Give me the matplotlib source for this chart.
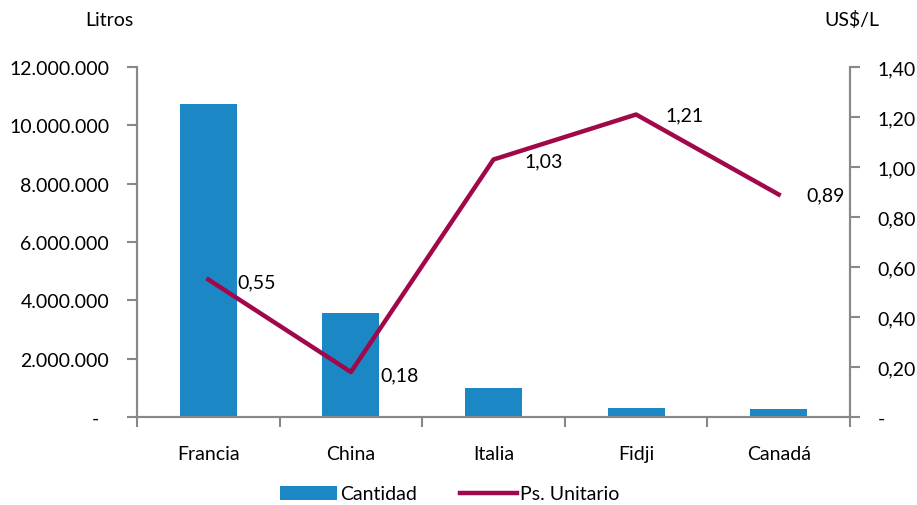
import matplotlib
matplotlib.use("Agg")
import matplotlib.pyplot as plt
from matplotlib.patches import Patch
from matplotlib.lines import Line2D
from matplotlib.ticker import FixedLocator

plt.rcParams['font.family'] = ['Lato', 'DejaVu Sans']

categories = ["Francia", "China", "Italia", "Fidji", "Canadá"]
cantidad = [10730000, 3570000, 980000, 300000, 260000]
ps_unitario = [0.55, 0.18, 1.03, 1.21, 0.89]
left_ticks = [0, 2000000, 4000000, 6000000, 8000000, 10000000, 12000000]
left_labels = ["-  ", "2.000.000", "4.000.000", "6.000.000", "8.000.000", "10.000.000", "12.000.000"]
right_ticks = [0, 0.2, 0.4, 0.6, 0.8, 1.0, 1.2, 1.4]
right_labels = ["-", "0,20", "0,40", "0,60", "0,80", "1,00", "1,20", "1,40"]

BAR = "#1B87C4"
LINE = "#A1084A"
SPINE = "#888888"
FS = 14

fig = plt.figure(figsize=(9.17, 5.06), dpi=100)
ax = fig.add_axes([137/917, 88/506, 713/917, 350/506])
x = list(range(len(categories)))
ax.bar(x, cantidad, width=0.4, color=BAR, zorder=2)
ax.set_xlim(-0.5, len(categories) - 0.5)
ax.set_ylim(0, 12000000)
ax.set_yticks(left_ticks)
ax.set_yticklabels(left_labels)
ax.set_xticks(x)
ax.set_xticklabels(categories)
ax.xaxis.set_minor_locator(FixedLocator([i - 0.5 for i in range(len(categories) + 1)]))
ax.tick_params(axis='x', which='major', length=0, pad=20, labelsize=FS)
ax.tick_params(axis='x', which='minor', length=7, width=1.5, color=SPINE, direction='out')
ax.tick_params(axis='y', length=7, width=1.5, color=SPINE, pad=13, labelsize=FS)
for s in ['left', 'bottom', 'right']:
    ax.spines[s].set_color(SPINE)
    ax.spines[s].set_linewidth(1.5)
ax.spines['top'].set_visible(False)

ax2 = ax.twinx()
ax2.set_ylim(0, 1.4)
ax2.set_yticks(right_ticks)
ax2.set_yticklabels(right_labels)
ax2.tick_params(axis='y', length=7, width=1.5, color=SPINE, pad=13, labelsize=FS)
for s in ['left', 'bottom', 'right']:
    ax2.spines[s].set_color(SPINE)
    ax2.spines[s].set_linewidth(1.5)
ax2.spines['top'].set_visible(False)

label_offsets = [(21, -2), (21, -2), (22, -1), (21, 0), (20, 0)]
for xi, v, off in zip(x, ps_unitario, label_offsets):
    ax2.annotate(f"{v:.2f}".replace(".", ","), (xi, v), xytext=off,
                 textcoords='offset points', ha='left', va='center', fontsize=FS, zorder=2)
ax2.plot(x, ps_unitario, color=LINE, linewidth=3.2, zorder=3)

fig.text(109/917, 1 - 20/506, "Litros", ha='center', va='center', fontsize=FS)
fig.text(852/917, 1 - 20/506, "US$/L", ha='center', va='center', fontsize=FS)

handles = [Patch(facecolor=BAR, edgecolor='none'), Line2D([0], [0], color=LINE, linewidth=3.2)]
fig.legend(handles, ["Cantidad", "Ps. Unitario"], loc='center', bbox_to_anchor=(450/917, 11/506),
           ncol=2, frameon=False, fontsize=FS, handlelength=2.9, handleheight=0.7,
           handletextpad=0.2, columnspacing=2.2)

fig.savefig("out.png", dpi=100)
